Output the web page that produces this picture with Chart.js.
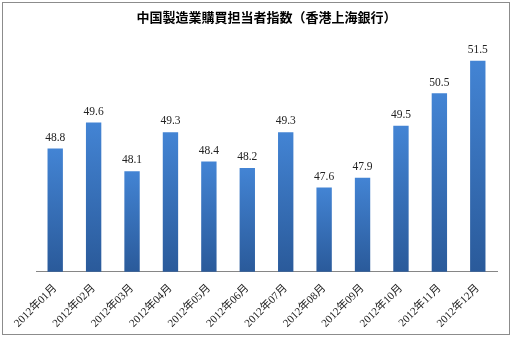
<!DOCTYPE html>
<html>
<head>
<meta charset="utf-8">
<script src="https://cdn.jsdelivr.net/npm/chart.js@4"></script>
<style>
  html, body { margin: 0; padding: 0; background: #fff; }
  #wrap { position: relative; width: 515px; height: 340px; }
</style>
</head>
<body>
<div id="wrap"><canvas id="chart" width="515" height="340"></canvas></div>
<script>
// Chart data
const months = ['2012年01月', '2012年02月', '2012年03月', '2012年04月', '2012年05月', '2012年06月',
                '2012年07月', '2012年08月', '2012年09月', '2012年10月', '2012年11月', '2012年12月'];
const pmiValues = [48.8, 49.6, 48.1, 49.3, 48.4, 48.2, 49.3, 47.6, 47.9, 49.5, 50.5, 51.5];
const yMin = 45;
const yMax = 52;

const serifFont = "'Liberation Serif', 'DejaVu Serif', 'Noto Sans CJK JP', serif";

// Vertical gradient per bar (light top, dark bottom)
function barGradient(context) {
    const chart = context.chart;
    const area = chart.chartArea;
    if (!area || !chart.scales.y) return '#3770bd';
    const top = chart.scales.y.getPixelForValue(context.raw);
    const g = chart.ctx.createLinearGradient(0, top, 0, area.bottom);
    g.addColorStop(0, '#4384d4');
    g.addColorStop(1, '#2a5a9a');
    return g;
}

// Frame around the whole picture
const framePlugin = {
    id: 'frame',
    beforeDraw(chart) {
        const ctx = chart.ctx;
        ctx.save();
        ctx.fillStyle = '#fff';
        ctx.fillRect(0, 0, chart.width, chart.height);
        ctx.strokeStyle = '#8c8c8c';
        ctx.lineWidth = 1;
        ctx.strokeRect(2.5, 2.5, 507, 332);
        ctx.restore();
    }
};

// Value labels above bars
const valueLabels = {
    id: 'valueLabels',
    afterDatasetsDraw(chart) {
        const ctx = chart.ctx;
        const meta = chart.getDatasetMeta(0);
        ctx.save();
        ctx.font = '11.5px ' + serifFont;
        ctx.fillStyle = '#222';
        ctx.textAlign = 'center';
        ctx.textBaseline = 'bottom';
        meta.data.forEach((bar, i) => {
            ctx.fillText(pmiValues[i].toFixed(1), bar.x, bar.y - 5);
        });
        ctx.restore();
    }
};

new Chart(document.getElementById('chart'), {
    type: 'bar',
    data: {
        labels: months,
        datasets: [{
            data: pmiValues,
            backgroundColor: barGradient,
            borderWidth: 0,
            barPercentage: 0.4,
            categoryPercentage: 1.0
        }]
    },
    options: {
        responsive: false,
        animation: false,
        layout: {
            padding: { left: 36, right: 18, top: 0, bottom: 0 }
        },
        plugins: {
            legend: { display: false },
            tooltip: { enabled: false },
            title: {
                display: true,
                text: '中国製造業購買担当者指数（香港上海銀行）',
                color: '#000',
                font: { family: "'Noto Sans CJK JP', sans-serif", size: 13, weight: 'bold' },
                padding: { top: 9, bottom: 20 }
            }
        },
        scales: {
            x: {
                grid: { display: false, drawTicks: false },
                border: { display: true, color: '#868686', width: 1 },
                ticks: {
                    color: '#222',
                    font: { family: serifFont, size: 11 },
                    minRotation: 45,
                    maxRotation: 45,
                    padding: 10
                }
            },
            y: {
                display: false,
                min: yMin,
                max: yMax
            }
        }
    },
    plugins: [framePlugin, valueLabels]
});
</script>
</body>
</html>
